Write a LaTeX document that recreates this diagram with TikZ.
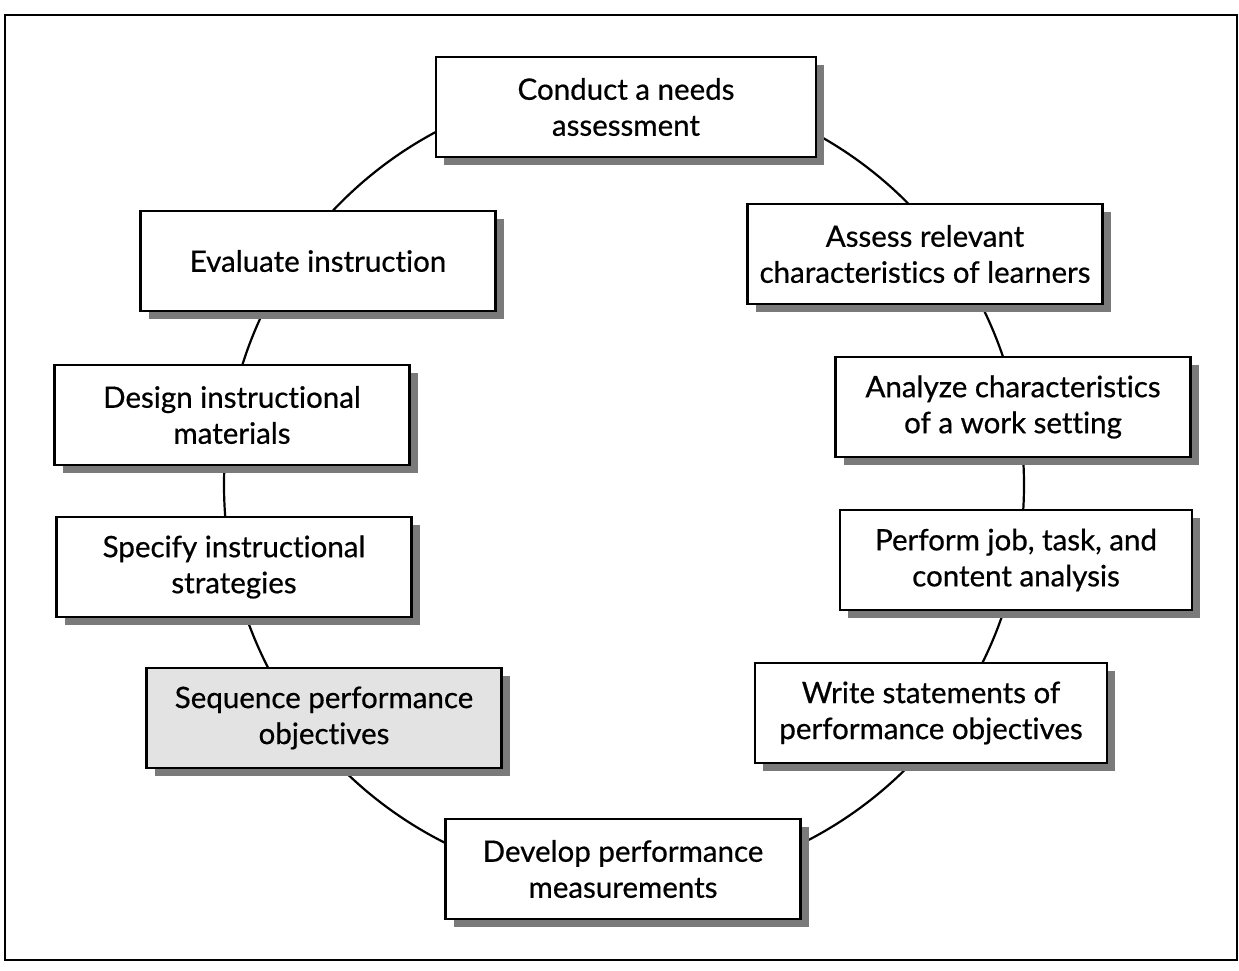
\documentclass[tikz,border=0pt]{standalone}
\usepackage{fontspec}
\setmainfont{Lato}[Ligatures=NoCommon, FakeBold=0.6]
\usetikzlibrary{positioning,shadows}
\tikzset{
  stage/.style={draw=black, line width=2.2pt, fill=white, inner sep=0pt,
    minimum width=355pt, minimum height=100pt, align=center,
    font=\fontsize{29.5}{36}\selectfont,
    drop shadow={shadow xshift=8pt, shadow yshift=-8pt, fill=black!52, opacity=1}},
  focus/.style={stage, fill=gray!22},
  ring/.style={draw=black, line width=2.2pt}
}

\begin{document}
\begin{tikzpicture}[x=1pt, y=-1pt]
    \useasboundingbox (0,0) rectangle (1239,970);
    \draw[line width=2.6pt] (5,15) rectangle (1237,960);

    \coordinate (c) at (624,485);
    \draw[ring] (c) circle (400pt);

    \node[stage, minimum width=380pt] (needs) at (626,107) {Conduct a needs\\assessment};
    \node[stage] (learners) at (925,254) {Assess relevant\\characteristics of learners};
    \node[stage] (setting) at (1013,407) {Analyze characteristics\\of a work setting};
    \node[stage, minimum width=352pt] (analysis) at (1016,560) {Perform job, task, and\\content analysis};
    \node[stage, minimum width=352pt] (objectives) at (931,713) {Write statements of\\performance objectives};
    \node[stage] (measures) at (623,869) {Develop performance\\measurements};
    \node[focus] (sequence) at (324,718) {Sequence performance\\objectives};
    \node[stage] (strategies) at (234,567) {Specify instructional\\strategies};
    \node[stage] (materials) at (232,415) {Design instructional\\materials};
    \node[stage] (evaluate) at (318,261) {Evaluate instruction};
\end{tikzpicture}
\end{document}
